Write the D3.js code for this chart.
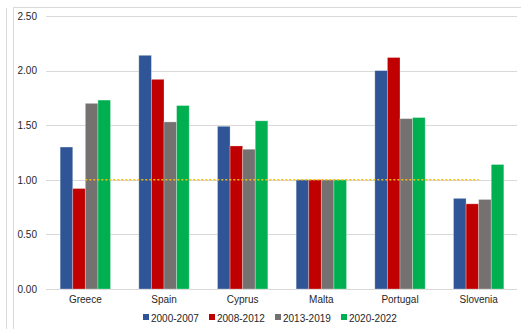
<!DOCTYPE html>
<html>
<head>
<meta charset="utf-8">
<script src="https://cdn.jsdelivr.net/npm/d3@7"></script>
<style>
  body { margin: 0; background: #fff; }
  text { font-family: 'Liberation Sans', Arial, sans-serif; fill: #262626; }
</style>
</head>
<body>
<div id="root"></div>
<script>
const countries = ['Greece', 'Spain', 'Cyprus', 'Malta', 'Portugal', 'Slovenia'];
const periods = ['2000-2007', '2008-2012', '2013-2019', '2020-2022'];
const colors = ['#2f5597', '#c00000', '#767171', '#00b050'];
const v2000_2007 = [1.30, 2.14, 1.49, 1.00, 2.00, 0.83];
const v2008_2012 = [0.92, 1.92, 1.31, 1.00, 2.12, 0.78];
const v2013_2019 = [1.70, 1.53, 1.28, 1.00, 1.56, 0.82];
const v2020_2022 = [1.73, 1.68, 1.54, 1.00, 1.57, 1.14];
const yTicks = [0, 0.5, 1, 1.5, 2, 2.5];
const reference = 1.0;

const series = [v2000_2007, v2008_2012, v2013_2019, v2020_2022];

const width = 521;
const height = 329;
const margin = { top: 16, right: 3, bottom: 40, left: 46 };

const svg = d3.select('#root').append('svg')
  .attr('width', width)
  .attr('height', height);

// frames
svg.append('line')
  .attr('x1', 6.5).attr('x2', 6.5)
  .attr('y1', 8).attr('y2', height)
  .attr('stroke', '#d9d9d9');
svg.append('rect')
  .attr('x', 13.5).attr('y', 7.5)
  .attr('width', width).attr('height', height)
  .attr('fill', 'none')
  .attr('stroke', '#d9d9d9');

const x0 = d3.scaleBand()
  .domain(countries)
  .range([margin.left, width - margin.right])
  .paddingInner(0.36)
  .paddingOuter(0.18);

const x1 = d3.scaleBand()
  .domain(periods)
  .range([0, x0.bandwidth()]);

const y = d3.scaleLinear()
  .domain([0, 2.5])
  .range([height - margin.bottom, margin.top]);

// grid
svg.append('g')
  .selectAll('line')
  .data(yTicks)
  .join('line')
  .attr('x1', margin.left)
  .attr('x2', width - 4)
  .attr('y1', d => Math.round(y(d)) + 0.5)
  .attr('y2', d => Math.round(y(d)) + 0.5)
  .attr('stroke', '#d9d9d9')
  .attr('stroke-width', 1);

const yAxis = d3.axisLeft(y)
  .tickValues(yTicks)
  .tickFormat(d3.format('.2f'))
  .tickSize(0)
  .tickPadding(9);

svg.append('g')
  .attr('transform', `translate(${margin.left}, 0)`)
  .call(yAxis)
  .call(g => g.select('.domain').remove())
  .selectAll('text')
  .attr('font-size', 10)
  .attr('font-family', "'Liberation Sans', Arial, sans-serif")
  .attr('fill', '#404040');

// bars
const groups = svg.append('g')
  .selectAll('g')
  .data(countries)
  .join('g')
  .attr('transform', d => `translate(${x0(d)}, 0)`);

groups.selectAll('rect')
  .data((c, i) => periods.map((p, j) => ({ period: p, value: series[j][i], color: colors[j] })))
  .join('rect')
  .attr('x', d => x1(d.period))
  .attr('y', d => y(d.value))
  .attr('width', x1.bandwidth())
  .attr('height', d => y(0) - y(d.value))
  .attr('fill', d => d.color)
  .attr('stroke', 'rgba(255,255,255,0.35)')
  .attr('stroke-width', 0.8);

// reference line
const centre = c => x0(c) + x0.bandwidth() / 2;
svg.append('line')
  .attr('x1', centre(countries[0]))
  .attr('x2', centre(countries[countries.length - 1]))
  .attr('y1', y(reference))
  .attr('y2', y(reference))
  .attr('stroke', '#f7bd10')
  .attr('stroke-width', 1.6)
  .attr('stroke-dasharray', '2,2');

// category labels
const xAxis = d3.axisBottom(x0)
  .tickSize(0)
  .tickPadding(7);

svg.append('g')
  .attr('transform', `translate(0, ${y(0)})`)
  .call(xAxis)
  .call(g => g.select('.domain').remove())
  .selectAll('text')
  .attr('font-size', 10)
  .attr('font-family', "'Liberation Sans', Arial, sans-serif")
  .attr('fill', '#262626');

// legend
const legend = svg.append('g')
  .attr('transform', `translate(143, 318)`);

const items = legend.selectAll('g')
  .data(periods)
  .join('g')
  .attr('transform', (d, i) => `translate(${i * 66}, 0)`);

items.append('rect')
  .attr('x', 0)
  .attr('y', -4)
  .attr('width', 6)
  .attr('height', 6)
  .attr('fill', (d, i) => colors[i]);

items.append('text')
  .attr('x', 8)
  .attr('y', 3.5)
  .attr('font-size', 10)
  .text(d => d);
</script>
</body>
</html>
